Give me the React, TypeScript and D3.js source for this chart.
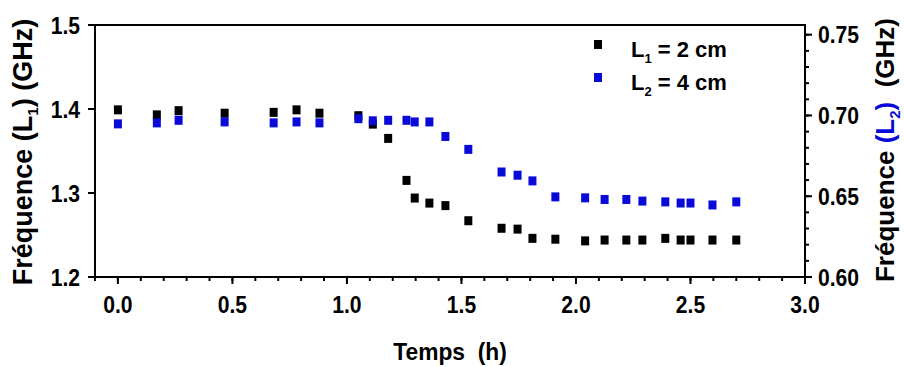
import React from "react";
import * as d3 from "d3";

const time = [0, 0.17, 0.265, 0.466, 0.68, 0.78, 0.88, 1.05, 1.113, 1.18, 1.26, 1.296, 1.36, 1.43, 1.53, 1.675, 1.745, 1.81, 1.91, 2.04, 2.125, 2.22, 2.29, 2.39, 2.457, 2.5, 2.596, 2.7];
const freqL1 = [1.399, 1.393, 1.398, 1.395, 1.396, 1.399, 1.395, 1.392, 1.382, 1.365, 1.315, 1.294, 1.288, 1.285, 1.267, 1.258, 1.257, 1.246, 1.245, 1.243, 1.244, 1.244, 1.244, 1.246, 1.244, 1.244, 1.244, 1.244];
const freqL2 = [0.6948, 0.6954, 0.697, 0.696, 0.6954, 0.696, 0.6954, 0.698, 0.6967, 0.697, 0.697, 0.696, 0.696, 0.687, 0.679, 0.665, 0.663, 0.6595, 0.6496, 0.649, 0.648, 0.648, 0.647, 0.6465, 0.6458, 0.6458, 0.6446, 0.6465];
const xTicks = [0, 0.5, 1.0, 1.5, 2.0, 2.5, 3.0];
const leftTicks = [1.2, 1.3, 1.4, 1.5];
const rightTicks = [0.6, 0.65, 0.7, 0.75];
const legendLabels = [{ name: "L", sub: "1", rest: " = 2 cm" }, { name: "L", sub: "2", rest: " = 4 cm" }];

const BLUE = "#0a0ad8";
const FONT = "'Liberation Sans', Arial, sans-serif";

const X0 = 95, X1 = 805, Y0 = 25, Y1 = 277;

function T({ x, y, size, anchor = "start", rotate = 0, sx = 0.88, fill = "#000", children }: any) {
  return (
    <text
      transform={`translate(${x},${y}) rotate(${rotate}) scale(${sx},1)`}
      fontFamily={FONT}
      fontWeight="bold"
      fontSize={size}
      textAnchor={anchor}
      fill={fill}
    >
      {children}
    </text>
  );
}

export default function App() {
  const x = d3.scaleLinear().domain([-0.1, 3.0]).range([X0, X1]);
  const yL = d3.scaleLinear().domain([1.2, 1.5]).range([Y1, Y0]);
  const yR = d3.scaleLinear().domain([0.6, 0.756]).range([Y1, Y0]);
  const xMinor = d3.range(-1, 31).map((d) => d / 10);
  const rMinor = d3.range(60, 76).map((d) => d / 100);
  const markW = 8, markH = 9;

  return (
    <svg width={904} height={367} style={{ position: "absolute", left: 0, top: 0, background: "#fff" }}>
      <rect x={0} y={0} width={904} height={367} fill="#fff" />
      <rect x={X0} y={Y0} width={X1 - X0} height={Y1 - Y0} fill="none" stroke="#000" strokeWidth={2} />
      {xMinor.map((t, i) => (
        <line key={"xm" + i} x1={x(t)} x2={x(t)} y1={Y1} y2={Y1 + 4} stroke="#000" strokeWidth={2} />
      ))}
      {xTicks.map((t, i) => (
        <g key={"xt" + i}>
          <line x1={x(t)} x2={x(t)} y1={Y1} y2={Y1 + 7} stroke="#000" strokeWidth={2} />
          <T x={x(t)} y={Y1 + 36} size={24} anchor="middle">{t.toFixed(1)}</T>
        </g>
      ))}
      {leftTicks.map((v, i) => (
        <g key={"lt" + i}>
          <line x1={X0 - 7} x2={X0} y1={yL(v)} y2={yL(v)} stroke="#000" strokeWidth={2} />
          <T x={X0 - 15} y={yL(v) + 8.5} size={24} anchor="end">{v.toFixed(1)}</T>
        </g>
      ))}
      {rMinor.map((v, i) => (
        <line key={"rm" + i} x1={X1} x2={X1 + 4} y1={yR(v)} y2={yR(v)} stroke="#000" strokeWidth={2} />
      ))}
      {rightTicks.map((v, i) => (
        <g key={"rt" + i}>
          <line x1={X1} x2={X1 + 7} y1={yR(v)} y2={yR(v)} stroke="#000" strokeWidth={2} />
          <T x={X1 + 13} y={yR(v) + 8.5} size={24} anchor="start">{v.toFixed(2)}</T>
        </g>
      ))}
      <T x={450} y={360} size={24} sx={0.95} anchor="middle">{"Temps\u00a0 (h)"}</T>
      <T x={32} y={152} size={27} sx={1} anchor="middle" rotate={-90}>
        Fréquence (L<tspan fontSize={15} dy={6}>1</tspan><tspan dy={-6}>) (GHz)</tspan>
      </T>
      <T x={894} y={150} size={26} sx={1} anchor="middle" rotate={-90}>
        Fréquence <tspan fill={BLUE}>(L</tspan><tspan fill={BLUE} fontSize={15} dy={6}>2</tspan><tspan fill={BLUE} dy={-6}>)</tspan>{"\u00a0 (GHz)"}
      </T>
      {time.map((t, i) => (
        <rect key={"a" + i} x={x(t) - markW / 2} y={yL(freqL1[i]) - markH / 2} width={markW} height={markH} fill="#000" />
      ))}
      {time.map((t, i) => (
        <rect key={"b" + i} x={x(t) - markW / 2} y={yR(freqL2[i]) - markH / 2} width={markW} height={markH} fill={BLUE} />
      ))}
      {legendLabels.map((l, i) => (
        <g key={"lg" + i}>
          <rect x={594} y={44 + i * 33 - 4} width={markW} height={markH} fill={i === 0 ? "#000" : BLUE} />
          <T x={631} y={57 + i * 33} size={22} sx={1}>
            {l.name}<tspan fontSize={13} dy={6}>{l.sub}</tspan><tspan dy={-6}>{l.rest}</tspan>
          </T>
        </g>
      ))}
    </svg>
  );
}
